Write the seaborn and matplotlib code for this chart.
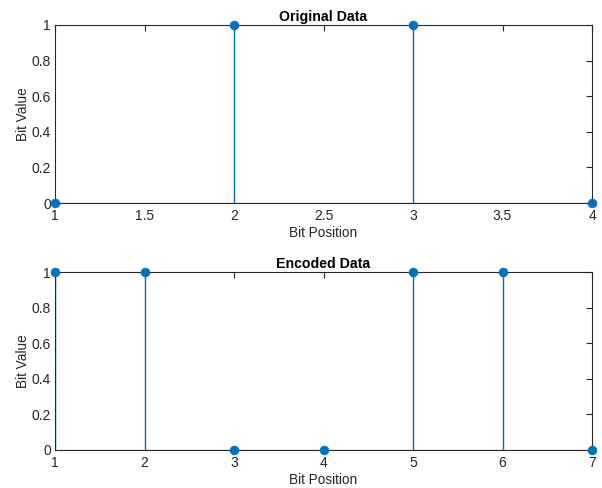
import matplotlib
matplotlib.use("Agg")
import matplotlib.pyplot as plt
import numpy as np
import pandas as pd
import seaborn as sns

# data
original_pos = [1, 2, 3, 4]
original_bits = [0, 1, 1, 0]
encoded_pos = [1, 2, 3, 4, 5, 6, 7]
encoded_bits = [1, 1, 0, 0, 1, 1, 0]

sns.set_style('white')
plt.rcParams['font.family'] = ['Liberation Sans', 'DejaVu Sans']

stem_color = '#0072BD'
axis_color = '#262626'

fig = plt.figure(figsize=(6.02, 4.88), dpi=100)
ax1 = fig.add_axes([0.0914, 0.584, 0.892, 0.3648])
ax2 = fig.add_axes([0.0914, 0.0779, 0.892, 0.3647])


def stem_panel(ax, pos, bits, title, xticks, xticklabels):
    df = pd.DataFrame({'pos': pos, 'bit': bits})
    ax.vlines(df['pos'], 0, df['bit'], color=stem_color, linewidth=1.0, zorder=2)
    sns.scatterplot(data=df, x='pos', y='bit', ax=ax, color=stem_color,
                    s=40, edgecolor=stem_color, linewidth=0.5, zorder=3,
                    clip_on=False)
    ax.axhline(0, color=axis_color, linewidth=0.8, zorder=1)
    ax.set_xlim(min(pos), max(pos))
    ax.set_ylim(0, 1)
    ax.set_xticks(xticks)
    ax.set_xticklabels(xticklabels)
    ax.set_yticks([0, 0.2, 0.4, 0.6, 0.8, 1])
    ax.set_yticklabels(['0', '0.2', '0.4', '0.6', '0.8', '1'])
    ax.tick_params(direction='in', length=4, width=0.8, colors=axis_color,
                   labelsize=10, top=True, right=True)
    ax.tick_params(axis='x', pad=4.5)
    ax.tick_params(axis='y', pad=3)
    for sp in ax.spines.values():
        sp.set_color(axis_color)
        sp.set_linewidth(0.8)
    ax.set_xlabel('Bit Position', fontsize=9.8, color=axis_color, labelpad=2)
    ax.set_ylabel('Bit Value', fontsize=9.8, color=axis_color, labelpad=1)
    ax.set_title(title, fontsize=10.2, fontweight='bold', color='black', pad=3)


stem_panel(ax1, original_pos, original_bits, 'Original Data',
           [1, 1.5, 2, 2.5, 3, 3.5, 4],
           ['1', '1.5', '2', '2.5', '3', '3.5', '4'])
stem_panel(ax2, encoded_pos, encoded_bits, 'Encoded Data',
           encoded_pos, [str(p) for p in encoded_pos])

fig.savefig('out.png', dpi=100)
